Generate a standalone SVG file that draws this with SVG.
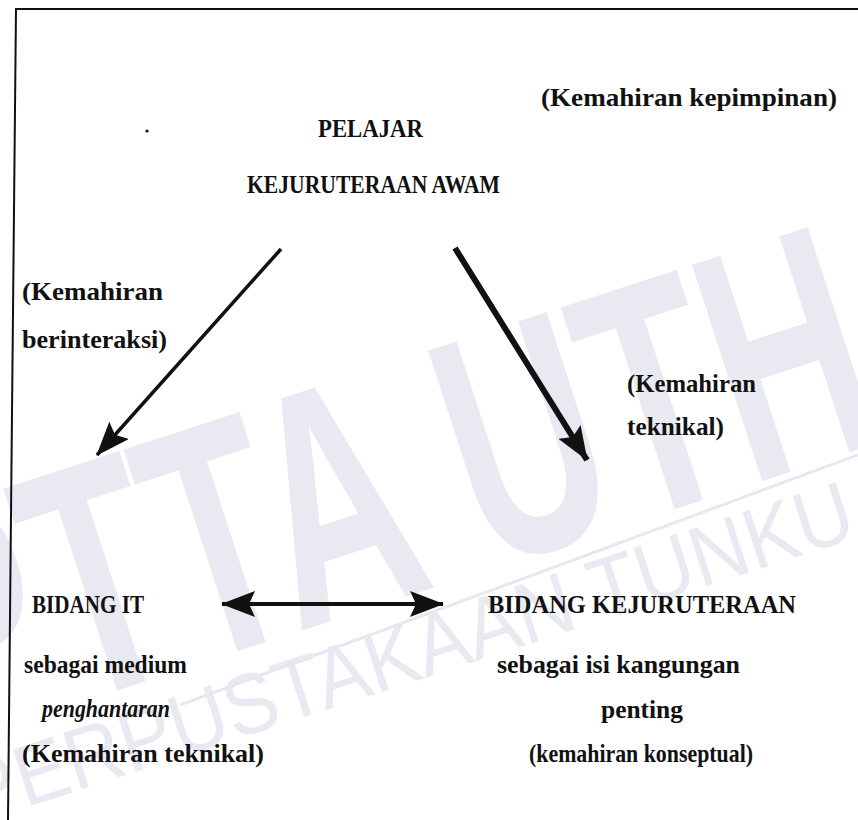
<svg xmlns="http://www.w3.org/2000/svg" width="858" height="820" viewBox="0 0 858 820">
<defs>
<style>
.t{font-family:"Liberation Serif","Times New Roman",serif;font-weight:bold;font-size:25px;fill:#111}
.i{font-style:italic}
.wm{font-family:"Liberation Sans",Arial,sans-serif;fill:#e9e9f2}
.ln{stroke:#111;fill:none}
</style>
<marker id="ah" markerUnits="userSpaceOnUse" viewBox="0 0 34 26" refX="33" refY="13" markerWidth="34" markerHeight="26" orient="auto-start-reverse">
<path d="M0,0 L34,13 L0,26 L6,13 Z" fill="#111"/>
</marker>
</defs>
<rect width="858" height="820" fill="#fff"/>
<g id="watermark">
<text class="wm" transform="translate(-60,748) rotate(-18)" font-size="330" font-weight="bold" textLength="1000" lengthAdjust="spacingAndGlyphs">PTTA UTH</text>
<text class="wm" transform="translate(-25,824) rotate(-18)" font-size="86" textLength="930" lengthAdjust="spacingAndGlyphs" fill="#e7e7f0">PERPUSTAKAAN TUNKU</text>
<line x1="180" y1="705" x2="858" y2="455" stroke="#e7e7f0" stroke-width="3"/>
</g>
<g id="frame">
<line class="ln" x1="15" y1="9" x2="858" y2="9" stroke-width="2"/>
<line class="ln" x1="16" y1="8" x2="8" y2="820" stroke-width="2"/>
<circle cx="147" cy="131" r="1.6" fill="#111"/>
</g>
<g id="connectors">
<line class="ln" x1="281" y1="249" x2="97" y2="455" stroke-width="3.5" marker-end="url(#ah)"/>
<line class="ln" x1="455" y1="248" x2="587" y2="460" stroke-width="6" marker-end="url(#ah)"/>
<line class="ln" x1="222" y1="604" x2="443" y2="604" stroke-width="4" marker-start="url(#ah)" marker-end="url(#ah)"/>
</g>
<g id="label-kepimpinan"><text class="t" x="541" y="106" textLength="296" lengthAdjust="spacingAndGlyphs">(Kemahiran kepimpinan)</text></g>
<g id="node-pelajar">
<text class="t" x="318" y="137" textLength="105" lengthAdjust="spacingAndGlyphs">PELAJAR</text>
<text class="t" x="247" y="193" textLength="253" lengthAdjust="spacingAndGlyphs">KEJURUTERAAN AWAM</text>
</g>
<g id="label-berinteraksi">
<text class="t" x="22" y="300" textLength="141" lengthAdjust="spacingAndGlyphs">(Kemahiran</text>
<text class="t" x="22" y="348" textLength="145" lengthAdjust="spacingAndGlyphs">berinteraksi)</text>
</g>
<g id="label-teknikal">
<text class="t" x="627" y="392" textLength="129" lengthAdjust="spacingAndGlyphs">(Kemahiran</text>
<text class="t" x="627" y="435" textLength="97" lengthAdjust="spacingAndGlyphs">teknikal)</text>
</g>
<g id="node-it">
<text class="t" x="32" y="613" textLength="112" lengthAdjust="spacingAndGlyphs">BIDANG IT</text>
<text class="t" x="24" y="673" textLength="163" lengthAdjust="spacingAndGlyphs">sebagai medium</text>
<text class="t i" x="42" y="717" textLength="128" lengthAdjust="spacingAndGlyphs">penghantaran</text>
<text class="t" x="22" y="762" textLength="242" lengthAdjust="spacingAndGlyphs">(Kemahiran teknikal)</text>
</g>
<g id="node-kejuruteraan">
<text class="t" x="488" y="613" textLength="308" lengthAdjust="spacingAndGlyphs">BIDANG KEJURUTERAAN</text>
<text class="t" x="497" y="673" textLength="243" lengthAdjust="spacingAndGlyphs">sebagai isi kangungan</text>
<text class="t" x="601" y="718" textLength="82" lengthAdjust="spacingAndGlyphs">penting</text>
<text class="t" x="529" y="762" textLength="224" lengthAdjust="spacingAndGlyphs">(kemahiran konseptual)</text>
</g>
</svg>
